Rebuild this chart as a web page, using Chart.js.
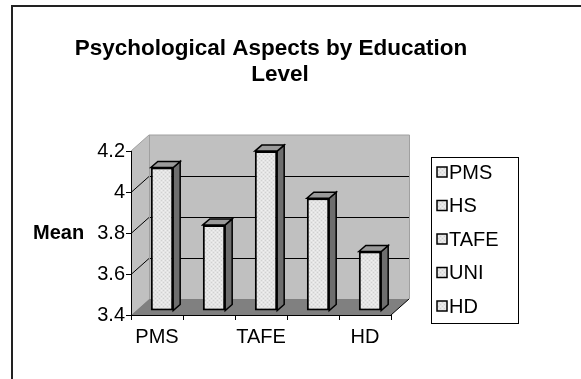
<!DOCTYPE html>
<html>
<head>
<meta charset="utf-8">
<script src="https://cdn.jsdelivr.net/npm/chart.js@4/dist/chart.umd.min.js"></script>
<style>
  html, body { margin: 0; padding: 0; background: #fff; overflow: hidden; }
  canvas { display: block; }
</style>
</head>
<body>
<canvas id="chart" width="581" height="379"></canvas>
<script>
// Mean psychological-aspect score for each education level
const categories = ['PMS', 'HS', 'TAFE', 'UNI', 'HD'];
const meanScores = [4.10, 3.82, 4.18, 3.95, 3.69];
const yTickValues = [3.4, 3.6, 3.8, 4.0, 4.2];
const titleLines = ['Psychological Aspects by Education', 'Level'];
const yAxisTitle = 'Mean';

const FONT = "'Liberation Sans', Arial, Helvetica, sans-serif";
const WALL_DEPTH = { x: 18, y: 16 };   // offset of the back wall from the front plane
const BAR_SHIFT = { x: 5, y: 4 };      // where the bar fronts sit inside that depth
const BAR_DEPTH = { x: 7, y: 6 };      // thickness of each column

const canvas = document.getElementById('chart');
const ctx2d = canvas.getContext('2d');

// light dotted fill used for the columns and legend keys
function dotPattern() {
  const t = document.createElement('canvas');
  t.width = 4; t.height = 4;
  const g = t.getContext('2d');
  g.fillStyle = '#e4e4e4'; g.fillRect(0, 0, 4, 4);
  g.fillStyle = '#d0d0d0'; g.fillRect(0, 0, 1, 1); g.fillRect(2, 2, 1, 1);
  g.fillStyle = '#f0f0f0'; g.fillRect(2, 0, 1, 1); g.fillRect(0, 2, 1, 1);
  return ctx2d.createPattern(t, 'repeat');
}
const barFill = dotPattern();

function poly(ctx, pts, fill, stroke, lw) {
  ctx.beginPath();
  ctx.moveTo(pts[0][0], pts[0][1]);
  for (let i = 1; i < pts.length; i++) ctx.lineTo(pts[i][0], pts[i][1]);
  ctx.closePath();
  if (fill) { ctx.fillStyle = fill; ctx.fill(); }
  if (stroke) { ctx.strokeStyle = stroke; ctx.lineWidth = lw || 1; ctx.stroke(); }
}
function seg(ctx, x1, y1, x2, y2, color, lw) {
  ctx.beginPath();
  ctx.moveTo(x1, y1); ctx.lineTo(x2, y2);
  ctx.strokeStyle = color; ctx.lineWidth = lw || 1; ctx.stroke();
}

// walls, floor, frame, title, axis title and legend
const sceneryPlugin = {
  id: 'scenery',
  beforeDraw(chart) {
    const { ctx, chartArea: a, scales: { y } } = chart;
    const dx = WALL_DEPTH.x, dy = WALL_DEPTH.y;
    ctx.save();

    // outer frame: left and top edges only
    ctx.fillStyle = '#222';
    ctx.fillRect(11, 5, 2, chart.height);
    ctx.fillRect(11, 5, chart.width, 2);

    // back wall
    poly(ctx, [[a.left + dx, a.top - dy], [a.right + dx, a.top - dy],
               [a.right + dx, a.bottom - dy], [a.left + dx, a.bottom - dy]], '#c0c0c0');
    // side wall
    poly(ctx, [[a.left, a.top], [a.left + dx, a.top - dy],
               [a.left + dx, a.bottom - dy], [a.left, a.bottom]], '#c0c0c0');
    // floor
    poly(ctx, [[a.left, a.bottom], [a.left + dx, a.bottom - dy],
               [a.right + dx, a.bottom - dy], [a.right, a.bottom]], '#808080');

    // gridlines across side and back walls
    yTickValues.forEach(v => {
      if (v === y.min || v === y.max) return;
      const py = Math.round(y.getPixelForValue(v)) + 0.5;
      seg(ctx, a.left, py, a.left + dx, py - dy, '#000', 1);
      seg(ctx, a.left + dx, py - dy, a.right + dx, py - dy, '#000', 1);
    });

    // wall outlines
    ctx.beginPath();
    ctx.moveTo(a.left, a.top);
    ctx.lineTo(a.left + dx, a.top - dy);
    ctx.lineTo(a.right + dx + 0.5, a.top - dy);
    ctx.lineTo(a.right + dx + 0.5, a.bottom - dy);
    ctx.moveTo(a.left + dx + 0.5, a.top - dy);
    ctx.lineTo(a.left + dx + 0.5, a.bottom - dy);
    ctx.strokeStyle = '#a0a0a0'; ctx.lineWidth = 1; ctx.stroke();
    // floor right edge
    seg(ctx, a.right, a.bottom, a.right + dx, a.bottom - dy, '#000', 1);

    // title
    ctx.fillStyle = '#000';
    ctx.font = 'bold 22.5px ' + FONT;
    ctx.textAlign = 'center';
    ctx.textBaseline = 'middle';
    ctx.fillText(titleLines[0], 271, 49);
    ctx.fillText(titleLines[1], 280, 75);

    // value axis title, set horizontally
    ctx.font = 'bold 20px ' + FONT;
    ctx.textAlign = 'left';
    ctx.fillText(yAxisTitle, 33, (a.top + a.bottom) / 2);

    // legend
    const lx = 431, ly = 157, lw = 87, lh = 166;
    ctx.strokeStyle = '#000'; ctx.lineWidth = 1;
    ctx.strokeRect(lx + 0.5, ly + 0.5, lw, lh);
    ctx.font = '20px ' + FONT;
    categories.forEach((name, i) => {
      const cy = 172 + i * 33.5;
      ctx.fillStyle = barFill;
      ctx.fillRect(437, cy - 5, 10, 10);
      ctx.strokeStyle = '#000'; ctx.lineWidth = 1.5;
      ctx.strokeRect(437, cy - 5, 10, 10);
      ctx.fillStyle = '#000';
      ctx.fillText(name, 449, cy + 1);
    });
    ctx.restore();
  },
  beforeDatasetsDraw(chart) {
    chart.ctx.save();
    chart.ctx.translate(BAR_SHIFT.x, -BAR_SHIFT.y);
  },
  afterDatasetsDraw(chart) {
    const ctx = chart.ctx;
    const bx = BAR_DEPTH.x, by = BAR_DEPTH.y;
    chart.getDatasetMeta(0).data.forEach(bar => {
      const { x, y, base, width } = bar.getProps(['x', 'y', 'base', 'width'], true);
      const l = x - width / 2, r = x + width / 2;
      const b = Math.min(base, chart.chartArea.bottom);
      // side face
      poly(ctx, [[r, y], [r + bx, y - by], [r + bx, b - by], [r, b]], '#6e6e6e', '#000', 1.5);
      // top face
      poly(ctx, [[l, y], [l + bx, y - by], [r + bx, y - by], [r, y]], '#9a9a9a', '#000', 1.5);
    });
    ctx.restore();
  }
};

new Chart(canvas, {
  type: 'bar',
  data: {
    labels: categories,
    datasets: [{
      label: yAxisTitle,
      data: meanScores,
      base: yTickValues[0],
      clip: false,
      backgroundColor: barFill,
      borderColor: '#000',
      borderWidth: 2,
      borderSkipped: false,
      categoryPercentage: 1,
      barPercentage: 0.43
    }]
  },
  options: {
    responsive: false,
    devicePixelRatio: 1,
    animation: false,
    layout: { padding: { left: 0, top: 151, right: 190, bottom: 0 } },
    plugins: {
      legend: { display: false },
      title: { display: false },
      tooltip: { enabled: false }
    },
    scales: {
      x: {
        grid: { offset: true, drawOnChartArea: false, drawTicks: true, tickLength: 5, color: '#000', lineWidth: 1 },
        border: { display: true, color: '#000', width: 1 },
        ticks: {
          autoSkip: false,
          maxRotation: 0,
          padding: 5,
          color: '#000',
          font: { family: FONT, size: 20 },
          callback(value, index) { return index % 2 === 0 ? this.getLabelForValue(value) : ''; }
        },
        afterFit(scale) { scale.height = 64; }
      },
      y: {
        min: 3.4,
        max: 4.2,
        grid: { drawOnChartArea: false, drawTicks: true, tickLength: 5, color: '#000', lineWidth: 1 },
        border: { display: true, color: '#000', width: 1 },
        ticks: {
          padding: 1,
          color: '#000',
          font: { family: FONT, size: 20 },
          callback: v => String(+v.toFixed(1))
        },
        afterBuildTicks(scale) { scale.ticks = yTickValues.map(v => ({ value: v })); },
        afterFit(scale) { scale.width = 131; }
      }
    }
  },
  plugins: [sceneryPlugin]
});
</script>
</body>
</html>
